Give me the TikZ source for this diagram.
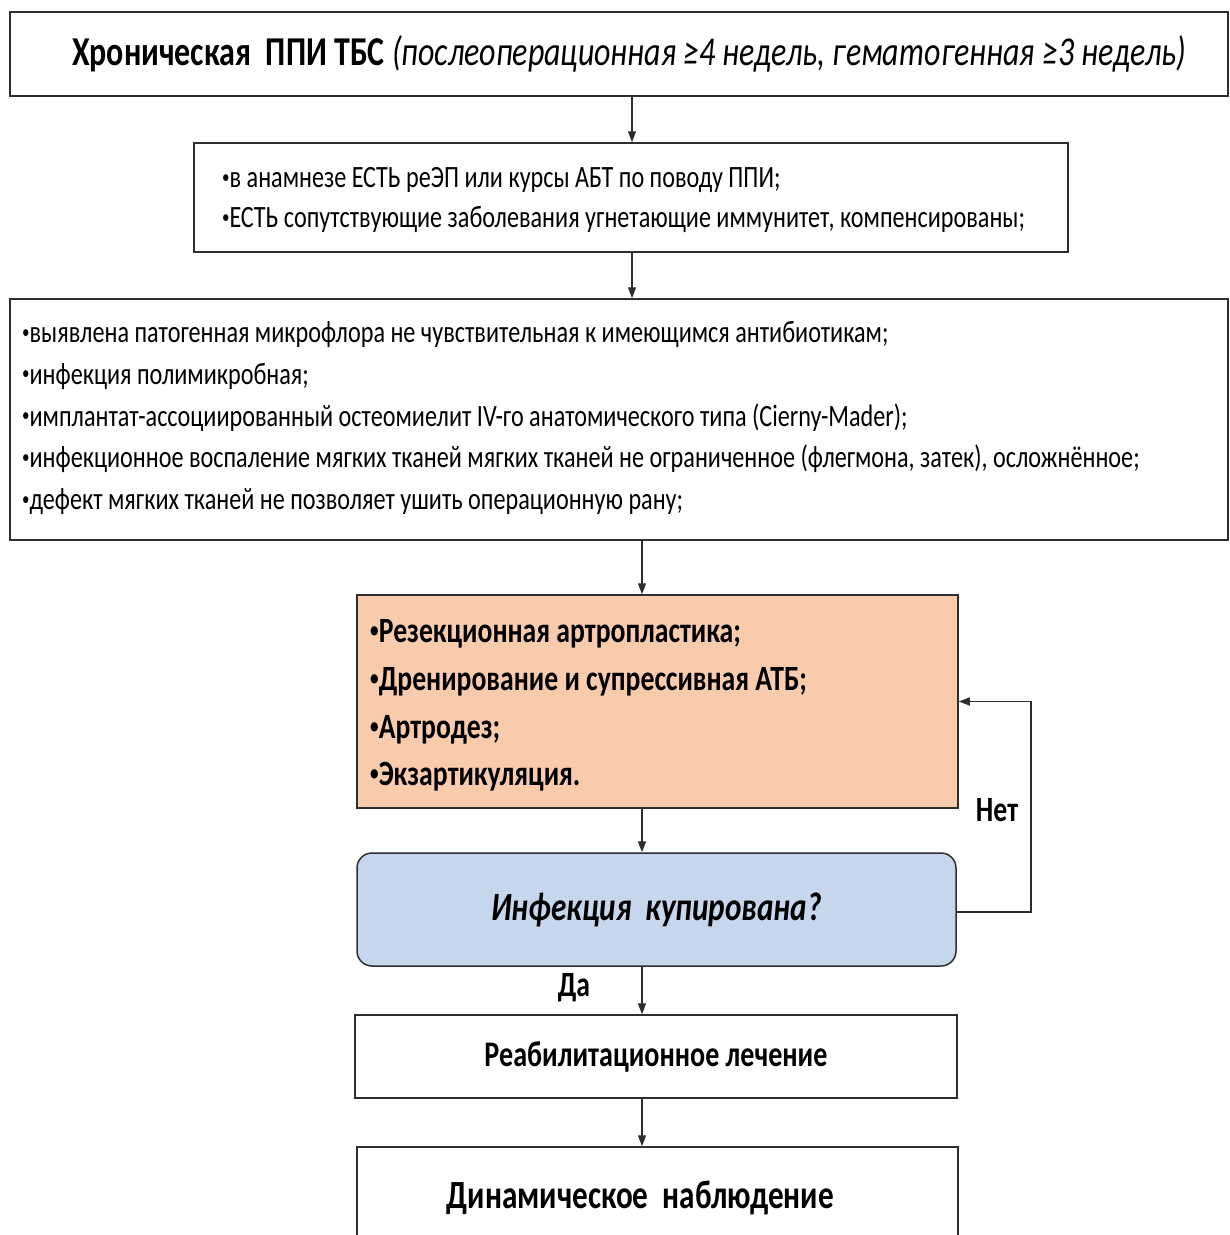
\documentclass[tikz,border=0pt]{standalone}
\usepackage{graphicx}
\usepackage{fontspec}
\setmainfont{Carlito}[FakeStretch=0.78]
\usetikzlibrary{arrows.meta}
\definecolor{peach}{HTML}{F8CBAD}
\definecolor{paleblue}{HTML}{C6D6EC}
\definecolor{edge}{HTML}{2E2E2E}
% small list bullet
\newcommand\itemdot{\raisebox{0.14em}{\scalebox{0.62}{•}}}
\begin{document}
\begin{tikzpicture}[x=1pt,y=-1pt,
  box/.style={draw=edge, line width=1.5pt, inner sep=0pt},
  arr/.style={draw=edge, line width=1.4pt, -{Triangle[length=11pt,width=8pt]}},
  body/.style={inner sep=0pt, align=left, anchor=west, font=\fontsize{31}{41.7}\selectfont},
  lbl/.style={inner sep=0pt, font=\fontsize{35.5}{40}\selectfont\bfseries}]
\useasboundingbox (0,0) rectangle (1230,1235);
\clip (0,0) rectangle (1230,1235);
\fill[white] (0,0) rectangle (1230,1235);

% title box
\node[box, minimum width=1218pt, minimum height=84pt,
      font=\fontsize{41}{46}\selectfont] (b1) at (619,54)
  {\hspace*{20pt}\textbf{Хроническая\ \ ППИ ТБС} \textit{(послеоперационная ≥4 недель, гематогенная ≥3 недель)}};

% history box
\node[box, minimum width=874pt, minimum height=109pt] (b2) at (631,197.5) {};
\node[body, font=\fontsize{31}{40}\selectfont] (t2) at (222,200)
  {\itemdot в анамнезе ЕСТЬ реЭП или курсы АБТ по поводу ППИ;\\
   \itemdot ЕСТЬ сопутствующие заболевания угнетающие иммунитет, компенсированы;};

% criteria box
\node[box, minimum width=1218pt, minimum height=241pt] (b3) at (619,419.5) {};
\node[body] (t3) at (22,418)
  {\itemdot выявлена патогенная микрофлора не чувствительная к имеющимся антибиотикам;\\
   \itemdot инфекция полимикробная;\\
   \itemdot имплантат-ассоциированный остеомиелит IV-го анатомического типа (Cierny-Mader);\\
   \itemdot инфекционное воспаление мягких тканей мягких тканей не ограниченное (флегмона, затек), осложнённое;\\
   \itemdot дефект мягких тканей не позволяет ушить операционную рану;};

% treatment options
\node[box, fill=peach, minimum width=601pt, minimum height=213pt] (b4) at (657.5,701.5) {};
\node[body, font=\fontsize{35.5}{47.7}\selectfont\bfseries] (t4) at (370,705.5)
  {\itemdot Резекционная артропластика;\\
   \itemdot Дренирование и супрессивная АТБ;\\
   \itemdot Артродез;\\
   \itemdot Экзартикуляция.};

% decision
\node[box, fill=paleblue, rounded corners=15pt, minimum width=599pt, minimum height=113pt,
      font=\fontsize{40}{48}\selectfont\bfseries\itshape] (b5) at (656.5,909.5)
  {Инфекция\ \ купирована?};

% rehabilitation
\node[box, minimum width=602pt, minimum height=83pt,
      font=\fontsize{36}{42}\selectfont\bfseries] (b6) at (656,1056.5)
  {Реабилитационное лечение};

% follow-up (text sits a little left of the box centre)
\node[box, minimum width=601pt, minimum height=102pt,
      font=\fontsize{40}{46}\selectfont\bfseries] (b7) at (657.5,1198)
  {\hspace*{-34pt}Динамическое\ \ наблюдение};

% connectors
\coordinate (ca) at (632,0);
\coordinate (cb) at (642,0);
\coordinate (loopx) at (1031,0);
\draw[arr] (b1.south -| ca) -- (b2.north -| ca);
\draw[arr] (b2.south -| ca) -- (b3.north -| ca);
\draw[arr] (b3.south -| cb) -- (b4.north -| cb);
\draw[arr] (b4.south -| cb) -- (b5.north -| cb);
\draw[arr] (b5.south -| cb) -- (b6.north -| cb);
\draw[arr] (b6.south -| cb) -- (b7.north -| cb);
\draw[arr] ([yshift=-2.5pt]b5.east) -- ([yshift=-2.5pt]b5.east -| loopx) |- (b4.east);

\node[lbl] (no) at (997,810) {Нет};
\node[lbl] (yes) at (574,988) {Да};
\end{tikzpicture}
\end{document}
